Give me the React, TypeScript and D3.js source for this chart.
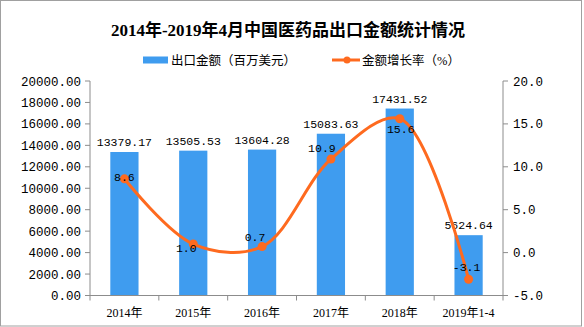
import React from "react";
import * as d3 from "d3";

const categories = ["2014年", "2015年", "2016年", "2017年", "2018年", "2019年1-4"];
const exportValues = [13379.17, 13505.53, 13604.28, 15083.63, 17431.52, 5624.64];
const growthRates = [8.6, 1.0, 0.7, 10.9, 15.6, -3.1];
const leftTicks = [0, 2000, 4000, 6000, 8000, 10000, 12000, 14000, 16000, 18000, 20000];
const rightTicks = [-5, 0, 5, 10, 15, 20];
const title = "2014年-2019年4月中国医药品出口金额统计情况";
const legendBar = "出口金额（百万美元）";
const legendLine = "金额增长率（%）";

// label placement offsets (style, not data)
const lineLabelOffsets: [number, number][] = [
  [0, -2], [-7, 4], [-7, -10], [-9, -11], [1, 10], [-2, -12],
];

const W = 584, H = 327;
const X0 = 90, X1 = 503, YT = 81, YB = 295.5;
const BAR = "#3f9cef";
const LINE = "#fe6a1f";
const AXIS = "#8c8c8c";
const NUM_FONT = "'Liberation Mono', 'DejaVu Sans Mono', monospace";
const CJK_FONT = "'Liberation Serif', 'Noto Sans CJK SC', serif";

export default function App() {
  const x = d3.scaleBand<string>().domain(categories).range([X0, X1]).padding(0);
  const yL = d3.scaleLinear().domain([0, 20000]).range([YB, YT]);
  const yR = d3.scaleLinear().domain([-5, 20]).range([YB, YT]);
  const bw = x.bandwidth() * 0.41;
  const cx = (c: string) => (x(c) as number) + x.bandwidth() / 2;

  const pts: [number, number][] = categories.map((c, i) => [cx(c), yR(growthRates[i])]);
  const linePath = d3.line().curve(d3.curveCatmullRom.alpha(0.5))(pts) || "";

  return (
    <svg width={W} height={H} style={{ position: "absolute", left: 0, top: 0, background: "#fff" }}>
      <rect x={0.5} y={0.5} width={581} height={325.5} fill="#fff" stroke="#a0a0a0" />
      <text x={288} y={35.5} textAnchor="middle" fontFamily={CJK_FONT} fontWeight="bold" fontSize={17} fill="#000">
        {title}
      </text>
      {/* legend */}
      <rect x={143} y={56.5} width={25} height={7} fill={BAR} />
      <text x={171} y={64.5} fontFamily={CJK_FONT} fontSize={12.5} fill="#000">{legendBar}</text>
      <line x1={332} x2={360} y1={60} y2={60} stroke={LINE} strokeWidth={3} />
      <circle cx={347} cy={60} r={3.5} fill={LINE} />
      <text x={362} y={64.5} fontFamily={CJK_FONT} fontSize={12.5} fill="#000">{legendLine}</text>

      {/* bars */}
      {categories.map((c, i) => (
        <rect key={c} x={cx(c) - bw / 2} y={yL(exportValues[i])} width={bw} height={YB - yL(exportValues[i])} fill={BAR} />
      ))}

      {/* left axis */}
      <line x1={X0} x2={X0} y1={YT} y2={YB} stroke={AXIS} />
      {leftTicks.map((t) => (
        <g key={t}>
          <line x1={X0 - 5} x2={X0} y1={yL(t)} y2={yL(t)} stroke={AXIS} />
          <text x={X0 - 9} y={yL(t) + 4.5} textAnchor="end" fontFamily={NUM_FONT} fontSize={12.5} fill="#000">
            {t.toFixed(2)}
          </text>
        </g>
      ))}
      {/* right axis */}
      <line x1={X1} x2={X1} y1={YT} y2={YB} stroke={AXIS} />
      {rightTicks.map((t) => (
        <g key={t}>
          <line x1={X1} x2={X1 + 5} y1={yR(t)} y2={yR(t)} stroke={AXIS} />
          <text x={X1 + 10} y={yR(t) + 4.5} textAnchor="start" fontFamily={NUM_FONT} fontSize={12.5} fill="#000">
            {t.toFixed(1)}
          </text>
        </g>
      ))}
      {/* x axis */}
      <line x1={X0} x2={X1} y1={YB} y2={YB} stroke={AXIS} />
      {categories.map((c, i) => (
        <g key={c}>
          <line x1={x(c) as number} x2={x(c) as number} y1={YB} y2={YB + 5} stroke={AXIS} />
          {i === categories.length - 1 && <line x1={X1} x2={X1} y1={YB} y2={YB + 5} stroke={AXIS} />}
          <text x={cx(c)} y={YB + 21} textAnchor="middle" fontFamily={CJK_FONT} fontSize={12} fill="#000">
            {c}
          </text>
        </g>
      ))}

      {/* bar labels */}
      {categories.map((c, i) => (
        <text key={c} x={cx(c)} y={yL(exportValues[i]) - 6} textAnchor="middle" fontFamily={NUM_FONT} fontSize={11.5} fill="#000">
          {exportValues[i].toFixed(2)}
        </text>
      ))}

      {/* line */}
      <path d={linePath} fill="none" stroke={LINE} strokeWidth={3} />
      {pts.map((p, i) => (
        <circle key={i} cx={p[0]} cy={p[1]} r={4.5} fill={LINE} />
      ))}
      {pts.map((p, i) => (
        <text key={i} x={p[0] + lineLabelOffsets[i][0]} y={p[1] + lineLabelOffsets[i][1] + 4} textAnchor="middle" fontFamily={NUM_FONT} fontSize={11.5} fill="#000">
          {growthRates[i].toFixed(1)}
        </text>
      ))}
    </svg>
  );
}
